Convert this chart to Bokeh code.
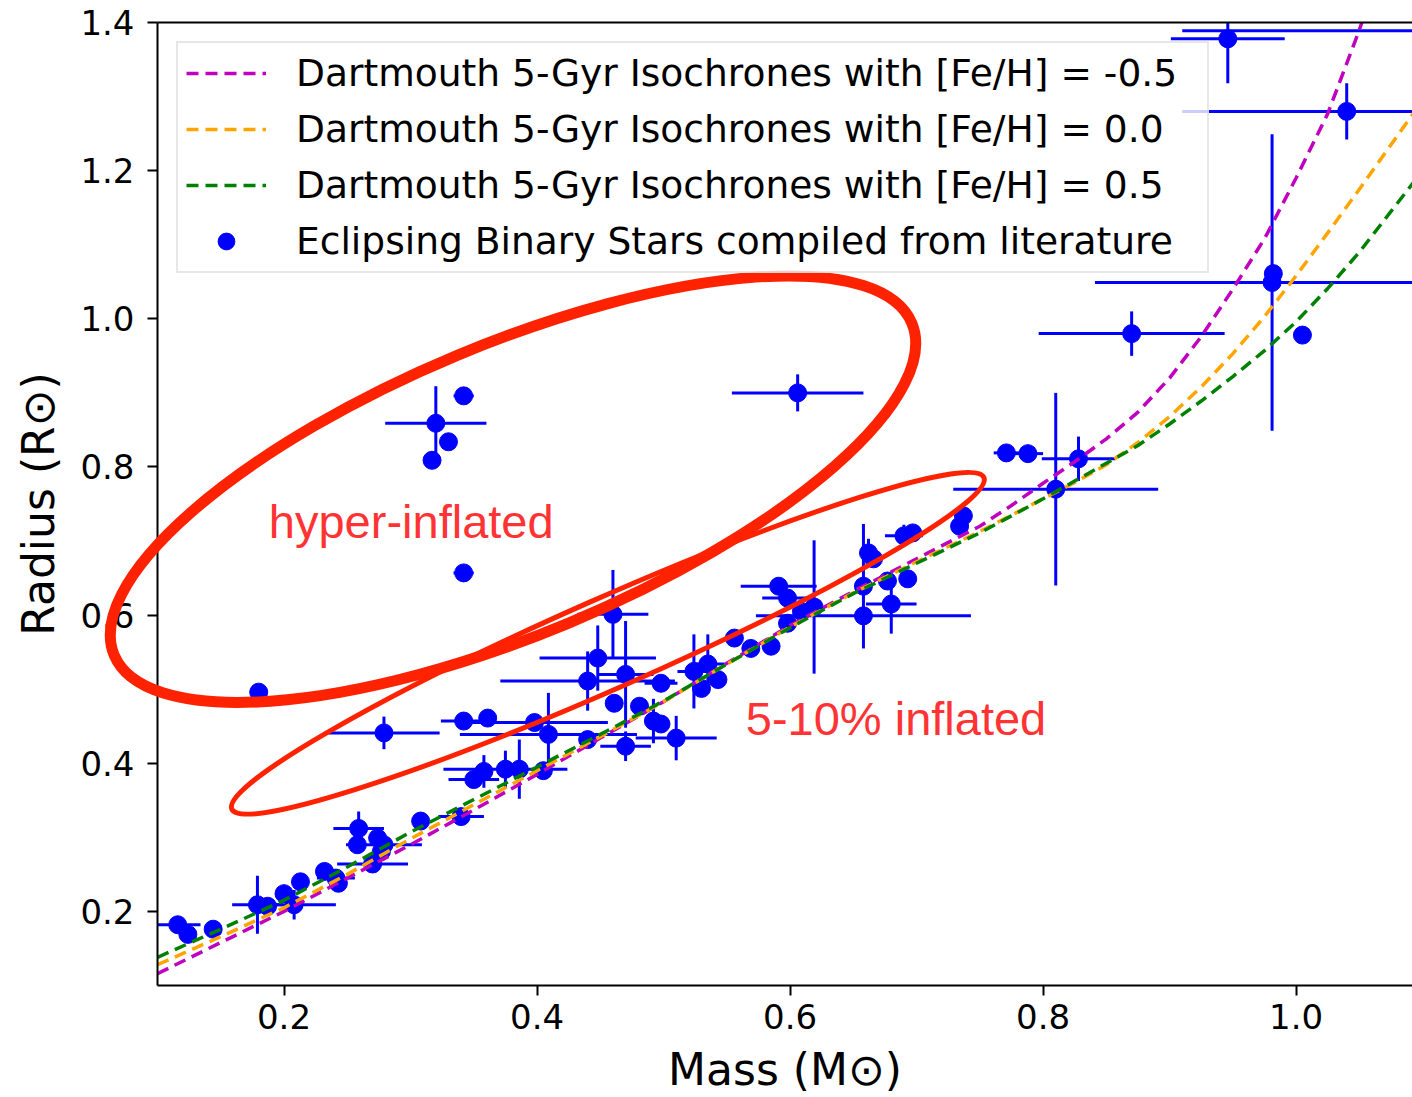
import math
from bokeh.plotting import figure
from bokeh.models import (ColumnDataSource, Legend, LegendItem, LinearAxis,
                          FixedTicker, NumeralTickFormatter, Label)
from bokeh.embed import file_html
from bokeh.resources import INLINE

# ---- Eclipsing binary stars (mass, radius, errors) ----
mass = [0.180, 0.320, 0.317, 0.330, 0.342, 0.342, 0.606, 0.946, 1.150, 1.040,
        0.981, 0.982, 0.870, 1.005, 0.771, 0.788, 0.828, 0.810, 0.734, 0.737,
        0.690, 0.697, 0.662, 0.666, 0.658, 0.658, 0.677, 0.693, 0.680, 0.591,
        0.598, 0.609, 0.619, 0.598, 0.585, 0.569, 0.556, 0.543, 0.535, 0.530,
        0.524, 0.460, 0.470, 0.448, 0.440, 0.461, 0.481, 0.498, 0.492, 0.498,
        0.470, 0.510, 0.440, 0.409, 0.398, 0.279, 0.342, 0.361, 0.350, 0.358,
        0.375, 0.386, 0.405, 0.340, 0.308, 0.259, 0.258, 0.274, 0.279, 0.270,
        0.277, 0.232, 0.241, 0.243, 0.213, 0.200, 0.208, 0.179, 0.187, 0.116,
        0.124, 0.144]
radius = [0.496, 0.859, 0.809, 0.834, 0.896, 0.657, 0.900, 1.378, 1.389, 1.280,
          1.049, 1.061, 0.980, 0.978, 0.819, 0.818, 0.811, 0.770, 0.720, 0.734,
          0.707, 0.711, 0.684, 0.676, 0.639, 0.599, 0.646, 0.649, 0.615, 0.639,
          0.623, 0.605, 0.611, 0.589, 0.558, 0.555, 0.569, 0.513, 0.534, 0.501,
          0.524, 0.601, 0.520, 0.542, 0.511, 0.481, 0.477, 0.508, 0.457, 0.453,
          0.423, 0.434, 0.432, 0.439, 0.455, 0.441, 0.457, 0.461, 0.378, 0.389,
          0.392, 0.392, 0.390, 0.328, 0.322, 0.312, 0.290, 0.299, 0.290, 0.264,
          0.281, 0.254, 0.245, 0.238, 0.240, 0.224, 0.209, 0.209, 0.207, 0.182,
          0.169, 0.176]
mass_err = [0.0, 0.040, 0.0, 0.0, 0.008, 0.008, 0.052, 0.045, 0.240, 0.130,
            0.140, 0.0, 0.0735, 0.0, 0.010, 0.012, 0.029, 0.081, 0.0, 0.0,
            0.015, 0.0, 0.0, 0.0, 0.0, 0.085, 0.0, 0.0, 0.020, 0.030,
            0.020, 0.0, 0.0, 0.0, 0.0, 0.0, 0.0, 0.0, 0.013, 0.0,
            0.013, 0.028, 0.022, 0.046, 0.069, 0.0, 0.0, 0.013, 0.0, 0.0,
            0.020, 0.032, 0.0, 0.070, 0.058, 0.044, 0.018, 0.0, 0.020, 0.0,
            0.049, 0.0, 0.0, 0.018, 0.0, 0.020, 0.0, 0.0, 0.030, 0.028,
            0.0, 0.0, 0.015, 0.0, 0.0, 0.0, 0.033, 0.020, 0.0, 0.018,
            0.0, 0.0]
radius_err = [0.0, 0.050, 0.0, 0.0, 0.0, 0.0, 0.025, 0.060, 0.0, 0.038,
              0.200, 0.0, 0.030, 0.0, 0.0, 0.0, 0.030, 0.130, 0.0, 0.0,
              0.015, 0.0, 0.019, 0.0, 0.084, 0.0, 0.0, 0.0, 0.040, 0.0,
              0.0, 0.0, 0.090, 0.0, 0.0, 0.0, 0.0, 0.0, 0.040, 0.0,
              0.050, 0.060, 0.072, 0.044, 0.040, 0.0, 0.0, 0.0, 0.030, 0.0,
              0.020, 0.030, 0.0, 0.056, 0.0, 0.022, 0.0, 0.0, 0.0, 0.022,
              0.025, 0.040, 0.0, 0.0, 0.0, 0.023, 0.0, 0.0, 0.0, 0.0,
              0.0, 0.0, 0.0, 0.0, 0.0, 0.0, 0.020, 0.039, 0.0, 0.0,
              0.0, 0.0]

# ---- Dartmouth 5-Gyr isochrones ----
iso_mass = [0.10, 0.15, 0.20, 0.25, 0.30, 0.35, 0.40, 0.45, 0.50, 0.55, 0.60,
            0.65, 0.70, 0.75, 0.775, 0.80, 0.825, 0.85, 0.875, 0.90, 0.925,
            0.95, 0.975, 1.00, 1.025, 1.05, 1.075, 1.10]
iso_r_m05 = [0.116, 0.158, 0.200, 0.245, 0.290, 0.337, 0.385, 0.434, 0.483, 0.535, 0.586,
             0.632, 0.676, 0.720, 0.748, 0.778, 0.807, 0.838, 0.874, 0.920, 0.976,
             1.040, 1.108, 1.190, 1.277, 1.390, 1.520, 1.660]
iso_r_00 = [0.128, 0.166, 0.205, 0.250, 0.298, 0.344, 0.390, 0.436, 0.483, 0.534, 0.584,
            0.630, 0.672, 0.713, 0.735, 0.757, 0.779, 0.803, 0.833, 0.868, 0.908,
            0.953, 1.003, 1.058, 1.116, 1.175, 1.235, 1.295]
iso_r_p05 = [0.138, 0.176, 0.215, 0.260, 0.307, 0.351, 0.395, 0.439, 0.484, 0.534, 0.583,
             0.629, 0.670, 0.711, 0.734, 0.757, 0.781, 0.805, 0.829, 0.858, 0.889,
             0.922, 0.957, 0.996, 1.041, 1.090, 1.145, 1.200]

labels = ["Dartmouth 5-Gyr Isochrones with [Fe/H] = -0.5",
          "Dartmouth 5-Gyr Isochrones with [Fe/H] = 0.0",
          "Dartmouth 5-Gyr Isochrones with [Fe/H] = 0.5",
          "Eclipsing Binary Stars compiled from literature"]
x_ticks = [0.2, 0.4, 0.6, 0.8, 1.0]
y_ticks = [0.2, 0.4, 0.6, 0.8, 1.0, 1.2, 1.4]

FONT = "DejaVu Sans"
BLUE = "#0000ff"
RED = "#ff2200"

p = figure(width=1412, height=1097, x_range=(0.1, 1.092), y_range=(0.1, 1.4),
           output_backend="svg", toolbar_location=None,
           min_border_left=157, min_border_right=0, min_border_top=22,
           min_border_bottom=112)
p.outline_line_color = None
p.grid.visible = False
p.background_fill_color = "white"
p.border_fill_color = "white"

for ax, ticks in ((p.xaxis[0], x_ticks), (p.yaxis[0], y_ticks)):
    ax.ticker = FixedTicker(ticks=ticks)
    ax.formatter = NumeralTickFormatter(format="0.0")
    ax.major_label_text_font = FONT
    ax.major_label_text_font_size = "34px"
    ax.major_label_text_color = "black"
    ax.axis_label_text_font = FONT
    ax.axis_label_text_font_size = "44px"
    ax.axis_label_text_font_style = "normal"
    ax.axis_label_text_color = "black"
    ax.axis_line_width = 2
    ax.axis_line_color = "black"
    ax.major_tick_line_width = 2
    ax.major_tick_out = 10
    ax.major_tick_in = 0
    ax.minor_tick_out = 0
    ax.minor_tick_in = 0

p.xaxis.axis_label = "Mass (M\u2299)"
p.yaxis.axis_label = "Radius (R\u2299)"
p.xaxis.major_label_standoff = 8
p.xaxis.axis_label_standoff = 12
p.yaxis.major_label_standoff = 13
p.yaxis.axis_label_standoff = 13

top = LinearAxis(ticker=FixedTicker(ticks=[]), axis_line_width=2, axis_line_color="black",
                 major_tick_out=0, major_tick_in=0, minor_tick_out=0, minor_tick_in=0,
                 major_label_standoff=0)
p.add_layout(top, "above")

src = ColumnDataSource(dict(
    m=mass, r=radius,
    m0=[m - e for m, e in zip(mass, mass_err)], m1=[m + e for m, e in zip(mass, mass_err)],
    r0=[r - e for r, e in zip(radius, radius_err)], r1=[r + e for r, e in zip(radius, radius_err)],
))

p.segment(x0="m0", x1="m1", y0="r", y1="r", source=src, line_color=BLUE, line_width=3)
p.segment(x0="m", x1="m", y0="r0", y1="r1", source=src, line_color=BLUE, line_width=3)
pts = p.scatter(x="m", y="r", source=src, size=18, fill_color=BLUE, line_color=BLUE)

dash = "12 7"
l1 = p.line(iso_mass, iso_r_m05, line_color="#bf00bf", line_width=3.5, line_dash=dash)
l2 = p.line(iso_mass, iso_r_00, line_color="#ffa500", line_width=3.5, line_dash=dash)
l3 = p.line(iso_mass, iso_r_p05, line_color="#008000", line_width=3.5, line_dash=dash)

# hand-drawn style highlight ellipses
e1 = p.ellipse(x=[0.381], y=[0.770], width=[864], height=[290], angle=[22.6],
               width_units="screen", height_units="screen", angle_units="deg",
               fill_color=None, line_color=RED, line_width=11)
e1.level = "overlay"
e2 = p.ellipse(x=[0.456], y=[0.562], width=[822], height=[90], angle=[23.8],
               width_units="screen", height_units="screen", angle_units="deg",
               fill_color=None, line_color=RED, line_width=5)
e2.level = "overlay"

p.add_layout(Label(x=0.188, y=0.727, text="hyper-inflated", text_font="Liberation Sans",
                   text_font_size="47px", text_color="#ff3333", text_baseline="alphabetic"))
p.add_layout(Label(x=0.565, y=0.460, text="5-10% inflated", text_font="Liberation Sans",
                   text_font_size="47px", text_color="#ff3333", text_baseline="alphabetic"))

legend = Legend(items=[LegendItem(label=labels[0], renderers=[l1]),
                       LegendItem(label=labels[1], renderers=[l2]),
                       LegendItem(label=labels[2], renderers=[l3]),
                       LegendItem(label=labels[3], renderers=[pts])],
                location="top_left", margin=19, padding=8, spacing=12,
                glyph_width=80, glyph_height=42, label_height=42, label_width=903,
                label_standoff=30, label_text_font=FONT, label_text_font_size="37.6px",
                label_text_color="black", border_line_color="#d0d0d0", border_line_width=2,
                background_fill_color="white", background_fill_alpha=0.8)
p.add_layout(legend)

open("out.html", "w").write(file_html(p, INLINE))
